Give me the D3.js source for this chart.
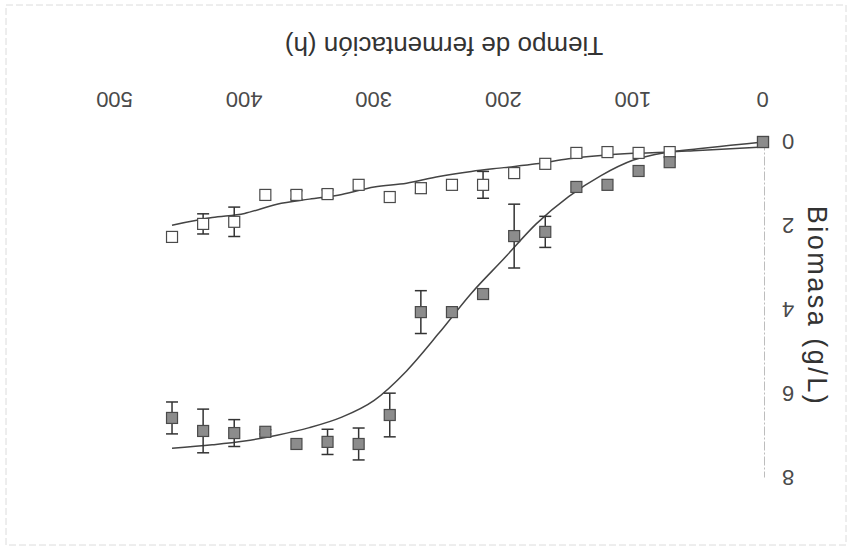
<!DOCTYPE html>
<html>
<head>
<meta charset="utf-8">
<script src="https://cdn.jsdelivr.net/npm/d3@7"></script>
<style>
  html, body { margin: 0; padding: 0; background: #fff; }
  svg { display: block; font-family: "Liberation Sans", Arial, sans-serif; }
</style>
</head>
<body>
<svg id="chart" width="851" height="550"></svg>
<script>
// Sampling times (h)
const times = [0, 72, 96, 120, 144, 168, 192, 216, 240, 264, 288, 312, 336, 360, 384, 408, 432, 456];

// Biomass, filled squares (g/L) and standard deviation
const biomassFilled = [0.0, 0.48, 0.69, 1.02, 1.07, 2.14, 2.24, 3.62, 4.05, 4.05, 6.5, 7.19, 7.14, 7.19, 6.9, 6.93, 6.88, 6.57];
const errFilled     = [0, 0, 0, 0, 0, 0.37, 0.76, 0, 0, 0.51, 0.52, 0.38, 0.3, 0, 0.05, 0.32, 0.52, 0.38];

// Biomass, open squares (g/L) and standard deviation
const biomassOpen = [0.0, 0.24, 0.26, 0.24, 0.26, 0.52, 0.74, 1.02, 1.02, 1.10, 1.31, 1.02, 1.24, 1.26, 1.26, 1.90, 1.95, 2.26];
const errOpen     = [0, 0, 0, 0, 0, 0, 0, 0.32, 0, 0.12, 0, 0, 0.1, 0.1, 0, 0.35, 0.24, 0];

// Fitted growth curves
const fitFilledT = [0, 25, 50, 75, 100, 125, 150, 175, 200, 225, 250, 275, 300, 325, 350, 375, 400, 425, 456];
const fitFilledY = [0.0, 0.08, 0.16, 0.25, 0.43, 0.8, 1.3, 1.95, 2.78, 3.6, 4.55, 5.45, 6.15, 6.55, 6.8, 6.98, 7.12, 7.21, 7.29];
const fitOpenT = [0, 50, 72, 100, 125, 150, 175, 200, 225, 250, 275, 300, 325, 350, 375, 400, 425, 456];
const fitOpenY = [0.12, 0.2, 0.24, 0.27, 0.32, 0.4, 0.52, 0.61, 0.7, 0.82, 0.98, 1.07, 1.25, 1.36, 1.48, 1.70, 1.80, 1.98];

// Axis ticks and titles
const xTicks = [0, 100, 200, 300, 400, 500];
const yTicks = [0, 2, 4, 6, 8];
const xTitle = "Tiempo de fermentación (h)";
const yTitle = "Biomasa (g/L)";

const W = 851, H = 550;
const svg = d3.select("#chart");

// faint page frame
svg.append("rect")
  .attr("x", 6).attr("y", 5).attr("width", 840).attr("height", 540)
  .attr("fill", "none").attr("stroke", "#dcdcdc").attr("stroke-width", 1)
  .attr("stroke-dasharray", "7,3");

// the whole figure is drawn turned half a revolution
const g = svg.append("g").attr("transform", `rotate(180, ${W / 2}, ${H / 2})`);

const x = d3.scaleLinear().domain([0, 500]).range([88, 736]);
const y = d3.scaleLinear().domain([0, 8]).range([408, 72]);

// x axis: labels only
const xAxis = g.append("g").attr("transform", "translate(0,450)")
  .call(d3.axisBottom(x).tickValues(xTicks).tickSize(0).tickFormat(d3.format("d")));
xAxis.select(".domain").remove();
xAxis.selectAll("text")
  .attr("y", 0).attr("dy", "0.36em")
  .attr("font-size", 22).attr("fill", "#4a4a4a")
  .attr("font-family", "Liberation Sans, Arial, sans-serif");

// y axis: faint dashed spine and labels
const yAxis = g.append("g").attr("transform", "translate(86,0)")
  .call(d3.axisLeft(y).tickValues(yTicks).tickSize(0).tickSizeOuter(0));
yAxis.select(".domain")
  .attr("stroke", "#bdbdbd").attr("stroke-width", 1).attr("stroke-dasharray", "9,2,2,2");
yAxis.selectAll("text")
  .attr("x", -23).attr("dy", "0.36em").attr("text-anchor", "middle")
  .attr("font-size", 22).attr("fill", "#4a4a4a")
  .attr("font-family", "Liberation Sans, Arial, sans-serif");

// axis titles
g.append("text")
  .attr("x", (x(0) + x(500)) / 2 - 5).attr("y", 504).attr("dy", "0.36em")
  .attr("text-anchor", "middle").attr("font-size", 26).attr("fill", "#333")
  .text(xTitle);
g.append("text")
  .attr("transform", `translate(33,244) rotate(-90)`)
  .attr("dy", "0.36em").attr("text-anchor", "middle")
  .attr("font-size", 27).attr("letter-spacing", 2.5).attr("fill", "#333")
  .text(yTitle);

// fitted curves
const line = d3.line().x(d => x(d[0])).y(d => y(d[1])).curve(d3.curveMonotoneX);
g.append("path")
  .datum(fitOpenT.map((t, i) => [t, fitOpenY[i]]))
  .attr("d", line).attr("fill", "none").attr("stroke", "#444").attr("stroke-width", 1.5);
g.append("path")
  .datum(fitFilledT.map((t, i) => [t, fitFilledY[i]]))
  .attr("d", line).attr("fill", "none").attr("stroke", "#444").attr("stroke-width", 1.5);

function drawSeries(vals, errs, fill) {
  const data = times.map((t, i) => ({ t, v: vals[i], e: errs[i] }));
  const eb = g.append("g").attr("stroke", "#333").attr("stroke-width", 1.5);
  data.filter(d => d.e > 0).forEach(d => {
    const cx = x(d.t), y1 = y(d.v - d.e), y2 = y(d.v + d.e);
    eb.append("line").attr("x1", cx).attr("x2", cx).attr("y1", y1).attr("y2", y2);
    eb.append("line").attr("x1", cx - 6).attr("x2", cx + 6).attr("y1", y1).attr("y2", y1);
    eb.append("line").attr("x1", cx - 6).attr("x2", cx + 6).attr("y1", y2).attr("y2", y2);
  });
  const s = 11;
  g.append("g").selectAll("rect").data(data).join("rect")
    .attr("x", d => x(d.t) - s / 2).attr("y", d => y(d.v) - s / 2)
    .attr("width", s).attr("height", s)
    .attr("fill", fill).attr("stroke", "#4a4a4a").attr("stroke-width", 1.2);
}

drawSeries(biomassOpen, errOpen, "#ffffff");
drawSeries(biomassFilled, errFilled, "#8c8c8c");
</script>
</body>
</html>
